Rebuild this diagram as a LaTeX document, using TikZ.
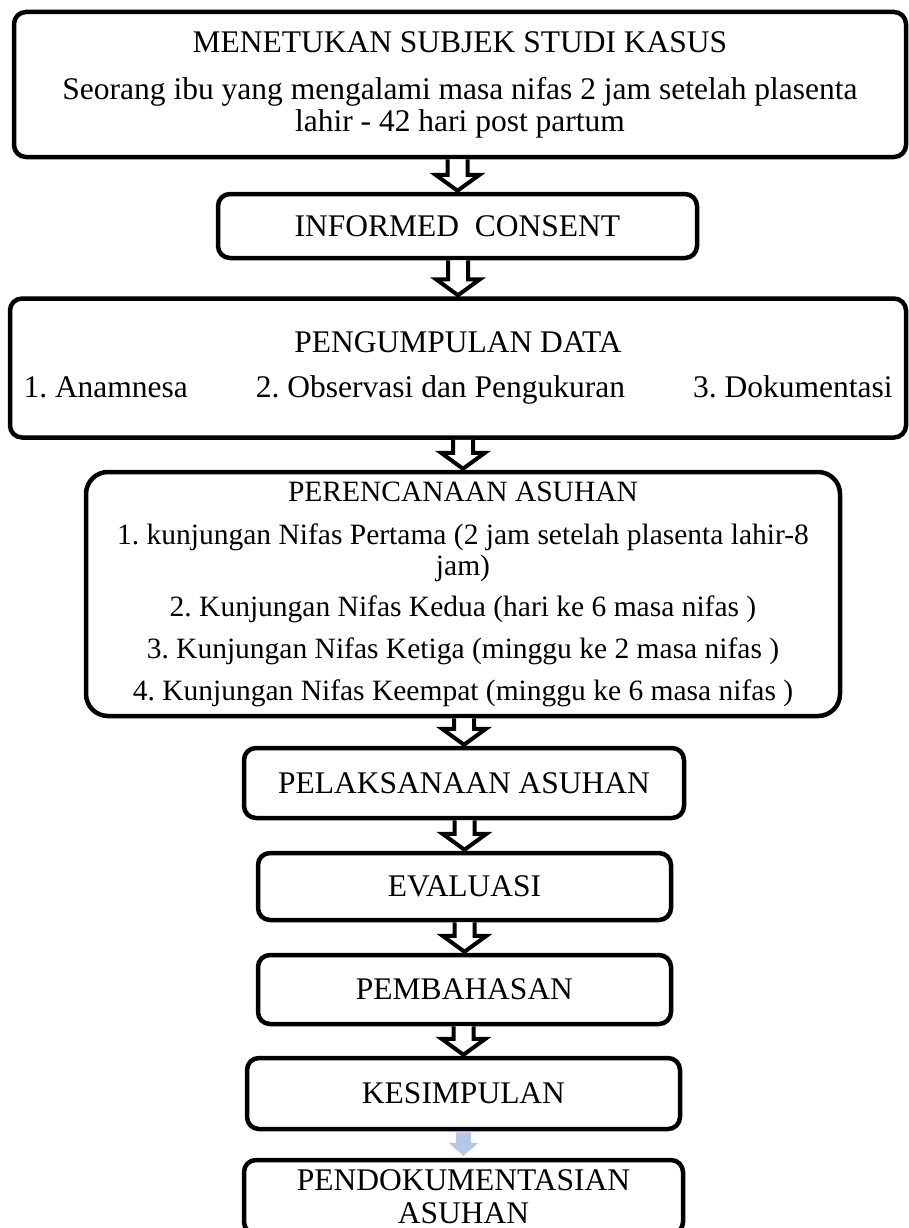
\documentclass[tikz,border=0pt]{standalone}
\usepackage{fontspec}
\setmainfont{Liberation Serif}
\usetikzlibrary{calc}
\definecolor{arrowblue}{HTML}{B4C7E7}
\tikzset{
  box/.style={draw, line width=4.5pt, rounded corners=12pt, align=center, inner sep=0pt, fill=white, font=\fontsize{31.5}{32}\selectfont\frenchspacing},
  bigbox/.style={box, rounded corners=22pt, font=\fontsize{29.5}{31}\selectfont\frenchspacing},
  hollowarrow/.style={draw, line width=4pt, fill=white, line join=miter},
  softarrow/.style={fill=arrowblue, draw=none}
}
\newcommand\flowarrow[2]{%
  \draw[hollowarrow] ($(#1.south -| #2.north)+(-10,0)$) -- ($(#2.north)+(-10,-17)$)
    -- ($(#2.north)+(-22,-17)$) -- ($(#2.north)+(0,-1)$) -- ($(#2.north)+(22,-17)$)
    -- ($(#2.north)+(10,-17)$) -- ($(#1.south -| #2.north)+(10,0)$);
}
\begin{document}
\begin{tikzpicture}[x=1pt,y=-1pt]
\useasboundingbox (0,0) rectangle (909,1228);

\node[box, minimum width=892pt, minimum height=145pt] (b1) at (460,84.5)
  {MENETUKAN SUBJEK STUDI KASUS\\[15pt]Seorang ibu yang mengalami masa nifas 2 jam setelah plasenta\\lahir - 42 hari post partum};

\node[box, minimum width=479pt, minimum height=64pt] (b2) at (457.5,226)
  {INFORMED~ CONSENT};

\node[box, minimum width=896pt, minimum height=139pt] (b3) at (458,368)
  {PENGUMPULAN DATA\\[13pt]\hbox to 869pt{1. Anamnesa\hfill 2. Observasi dan Pengukuran\hfill 3. Dokumentasi}};

\node[bigbox, minimum width=754pt, minimum height=244pt] (b4) at (463,594)
  {PERENCANAAN ASUHAN\\[12pt]1. kunjungan Nifas Pertama (2 jam setelah plasenta lahir-8\\jam)\\[10pt]2. Kunjungan Nifas Kedua (hari ke 6 masa nifas )\\[11pt]3. Kunjungan Nifas Ketiga (minggu ke 2 masa nifas )\\[11pt]4. Kunjungan Nifas Keempat (minggu ke 6 masa nifas )};

\node[box, minimum width=440pt, minimum height=70pt] (b5) at (464,783)
  {PELAKSANAAN ASUHAN};

\node[box, minimum width=413pt, minimum height=67pt] (b6) at (464.5,886.5)
  {EVALUASI};

\node[box, minimum width=413pt, minimum height=69pt] (b7) at (464.5,989.5)
  {PEMBAHASAN};

\node[box, minimum width=433pt, minimum height=71pt] (b8) at (463.5,1093.5)
  {KESIMPULAN};

\node[box, minimum width=439pt, minimum height=74pt] (b9) at (463.5,1197)
  {PENDOKUMENTASIAN\\[1pt]ASUHAN};

\flowarrow{b1}{b2}
\flowarrow{b2}{b3}
\flowarrow{b3}{b4}
\flowarrow{b4}{b5}
\flowarrow{b5}{b6}
\flowarrow{b6}{b7}
\flowarrow{b7}{b8}

\fill[softarrow] ($(b8.south -| b9.north)+(-7.5,1)$) -- ($(b9.north)+(-7.5,-15)$)
  -- ($(b9.north)+(-15,-15)$) -- ($(b9.north)+(0,-2)$) -- ($(b9.north)+(15,-15)$)
  -- ($(b9.north)+(7.5,-15)$) -- ($(b8.south -| b9.north)+(7.5,1)$) -- cycle;
\end{tikzpicture}
\end{document}
